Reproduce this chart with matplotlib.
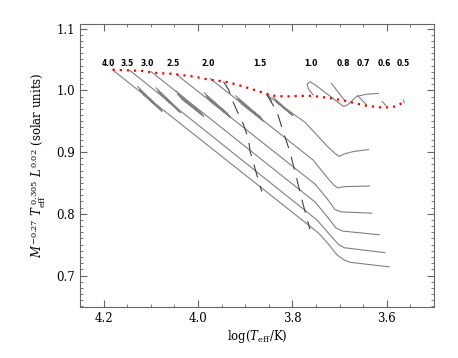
import numpy as np
import matplotlib
matplotlib.use("Agg")
import matplotlib.pyplot as plt
from matplotlib.ticker import MultipleLocator

plt.rcParams['font.family'] = 'DejaVu Serif'
plt.rcParams['mathtext.fontset'] = 'dejavuserif'

# ZAMS (red dotted)
zams_x = [4.181, 4.150, 4.119, 4.087, 4.059, 4.031, 4.006, 3.978, 3.942, 3.914, 3.890,
          3.865, 3.844, 3.815, 3.787, 3.759, 3.724, 3.692, 3.667, 3.643, 3.614, 3.590,
          3.576, 3.563]
zams_y = [1.0335, 1.0324, 1.0314, 1.028, 1.027, 1.0244, 1.022, 1.0175, 1.014, 1.0085, 1.003,
          0.997, 0.9915, 0.990, 0.991, 0.991, 0.988, 0.9836, 0.979, 0.975, 0.9724, 0.9724,
          0.9756, 0.982]

# evolutionary tracks (main part)
tracks = {
    '4.0': ([4.180, 3.745, 3.725, 3.705, 3.690, 3.678, 3.595],
            [1.0325, 0.769, 0.752, 0.733, 0.725, 0.7214, 0.714]),
    '3.5': ([4.145, 3.748, 3.722, 3.702, 3.690, 3.604],
            [1.0325, 0.790, 0.767, 0.750, 0.745, 0.737]),
    '3.0': ([4.099, 3.752, 3.726, 3.708, 3.694, 3.616],
            [1.030, 0.819, 0.795, 0.777, 0.772, 0.766]),
    '2.5': ([4.046, 3.752, 3.726, 3.710, 3.697, 3.632],
            [1.026, 0.848, 0.824, 0.807, 0.803, 0.801]),
    '2.0': ([3.974, 3.756, 3.730, 3.713, 3.704, 3.690, 3.637],
            [1.019, 0.887, 0.862, 0.847, 0.842, 0.844, 0.845]),
    '1.5': ([3.854, 3.773, 3.745, 3.727, 3.710, 3.701, 3.690, 3.670, 3.639],
            [0.9925, 0.948, 0.925, 0.910, 0.898, 0.893, 0.897, 0.901, 0.904]),
    '1.0': ([3.756, 3.766, 3.769, 3.763, 3.752, 3.692, 3.684, 3.664, 3.644, 3.618],
            [0.9925, 1.002, 1.010, 1.0139, 1.009, 0.974, 0.976, 0.990, 0.9936, 0.995]),
    '0.8': ([3.717, 3.689], [1.011, 0.983]),
    '0.7': ([3.662, 3.643], [0.9915, 0.9766]),
    '0.6': ([3.610, 3.602], [0.982, 0.9756]),
    '0.5': ([3.565, 3.563], [0.9845, 0.980]),
}

# loops (zig-zag bundles)
loops = {
    '4.0': ([4.128, 4.082, 4.124, 4.079, 4.120, 4.076, 4.116],
            [1.006, 0.972, 1.001, 0.969, 0.997, 0.966, 0.993]),
    '3.5': ([4.089, 4.043, 4.085, 4.040, 4.081, 4.037, 4.077],
            [1.004, 0.970, 0.999, 0.967, 0.995, 0.964, 0.991]),
    '3.0': ([4.047, 3.994, 4.043, 3.991, 4.039, 3.988, 4.035],
            [0.999, 0.964, 0.994, 0.961, 0.990, 0.958, 0.986]),
    '2.5': ([3.987, 3.937, 3.983, 3.934, 3.979, 3.931, 3.975],
            [0.996, 0.962, 0.991, 0.959, 0.987, 0.956, 0.983]),
    '2.0': ([3.920, 3.867, 3.916, 3.864, 3.912, 3.861, 3.908],
            [0.991, 0.956, 0.986, 0.953, 0.982, 0.950, 0.978]),
    '1.5': ([3.841, 3.802, 3.837, 3.799, 3.833],
            [0.989, 0.962, 0.984, 0.959, 0.980]),
    '1.5h': ([3.851, 3.844], [0.9936, 0.982]),
}

# dashed lines
dash1_x = [3.946, 3.935, 3.928, 3.914, 3.904, 3.893, 3.890, 3.881, 3.875, 3.865]
dash1_y = [1.014, 1.001, 0.985, 0.961, 0.945, 0.921, 0.902, 0.878, 0.862, 0.836]
dash2_x = [3.854, 3.833, 3.822, 3.805, 3.791, 3.778, 3.763]
dash2_y = [0.9925, 0.966, 0.939, 0.8995, 0.857, 0.817, 0.775]

mass_labels = ['4.0', '3.5', '3.0', '2.5', '2.0', '1.5', '1.0', '0.8', '0.7', '0.6', '0.5']
label_x = [4.189, 4.150, 4.107, 4.052, 3.979, 3.870, 3.761, 3.693, 3.650, 3.605, 3.566]

fig = plt.figure(figsize=(4.58, 3.58), dpi=100)
ax = fig.add_axes([0.1747, 0.1425, 0.773, 0.7905])

track_col = '0.5'
for k in tracks:
    ax.plot(tracks[k][0], tracks[k][1], color=track_col, lw=0.8)
for k in loops:
    ax.plot(loops[k][0], loops[k][1], color=track_col, lw=0.8)

ax.plot(dash1_x, dash1_y, color='0.25', lw=0.8, dashes=(12, 8))
ax.plot(dash2_x, dash2_y, color='0.25', lw=0.8, dashes=(12, 8))

ax.plot(zams_x, zams_y, color='red', lw=1.6, linestyle=(0, (1, 2.2)))

for lab, lx in zip(mass_labels, label_x):
    ax.text(lx, 1.044, lab, ha='center', va='center', fontsize=5.5,
            fontweight='bold', family='DejaVu Sans')

ax.set_xlim(4.25, 3.5)
ax.set_ylim(0.649, 1.1075)
ax.set_xticks([4.2, 4.0, 3.8, 3.6])
ax.set_yticks([0.7, 0.8, 0.9, 1.0, 1.1])
ax.xaxis.set_minor_locator(MultipleLocator(0.05))
ax.yaxis.set_minor_locator(MultipleLocator(0.01))
ax.tick_params(which='both', direction='in', top=True, right=True, color='0.4',
               labelsize=8.5)
ax.tick_params(which='major', length=5, width=0.8)
ax.tick_params(which='minor', length=2.5, width=0.6)
for s in ax.spines.values():
    s.set_color('0.4')
    s.set_linewidth(0.8)

ax.set_xlabel(r'$\log(T_{\mathrm{eff}}/\mathrm{K})$', fontsize=8.5, labelpad=2)
ax.set_ylabel(r'$M^{-0.27}\ T_{\mathrm{eff}}^{\ 0.305}\ L^{0.02}$ (solar units)',
              fontsize=8.5, labelpad=6)

fig.savefig('out.png', dpi=100)
